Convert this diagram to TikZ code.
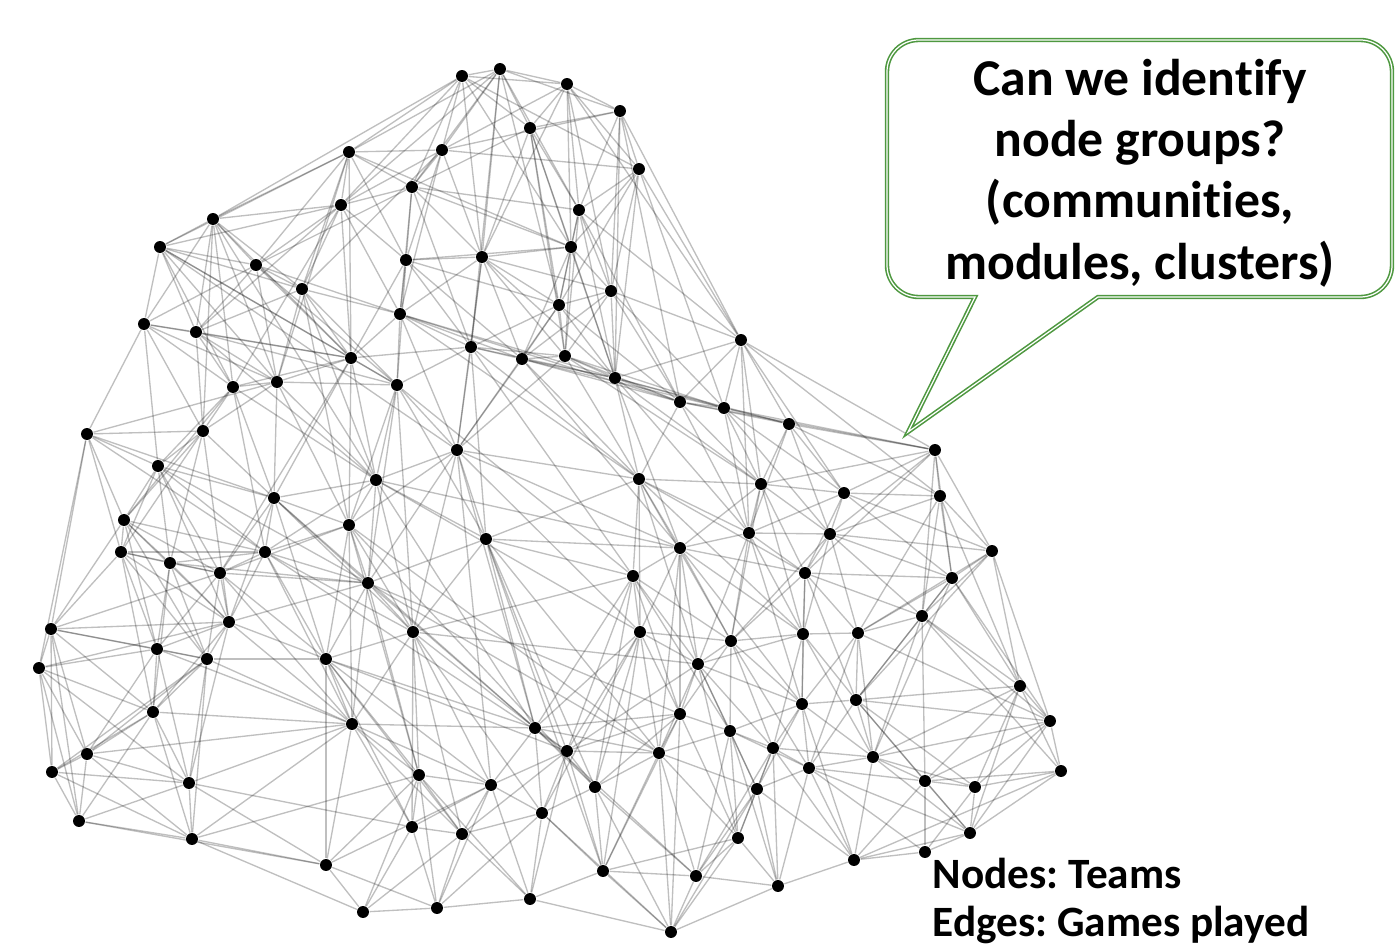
\documentclass[tikz,border=0pt]{standalone}
\usepackage{fontspec}
\setmainfont{Carlito}[Ligatures=NoCommon]
\definecolor{bubblegreen}{RGB}{78,152,64}
\frenchspacing

\begin{document}
\begin{tikzpicture}[
  x=0.01cm, y=-0.01cm,
  team/.style={circle, fill=black, minimum size=3.4pt, inner sep=0pt},
  game/.style={draw=black, opacity=0.25, line width=0.38pt},
  bubble/.style={draw=bubblegreen, line width=0.45pt, double=white, double distance=0.35pt, fill=white}
]
\useasboundingbox (0,0) rectangle (1400,949);

% teams
\foreach \i/\x/\y in {
  1/462/76, 2/500/69, 3/567/84, 4/620/111, 5/530/128, 6/442/150, 7/349/152, 8/639/169,
  9/412/187, 10/341/205, 11/579/210, 12/213/219, 13/160/247, 14/571/247, 15/406/260,
  16/482/257, 17/256/265, 18/302/289, 19/611/291, 20/559/305, 21/400/314, 22/144/324,
  23/196/332, 24/471/347, 25/522/359, 26/565/356, 27/351/358, 28/741/340, 29/233/387,
  30/277/382, 31/397/385, 32/615/378, 33/680/402, 34/724/408, 35/789/424, 36/87/434,
  37/203/431, 38/457/450, 39/935/450, 40/158/466, 41/376/480, 42/639/479, 43/761/484,
  44/844/493, 45/940/496, 46/274/498, 47/124/520, 48/349/525, 49/749/533, 50/830/534,
  51/486/539, 52/121/552, 53/265/552, 54/680/548, 55/992/551, 56/170/563, 57/220/573,
  58/633/576, 59/805/573, 60/952/578, 61/368/583, 62/922/616, 63/229/622, 64/51/629,
  65/413/632, 66/640/632, 67/731/641, 68/803/634, 69/858/633, 70/157/649, 71/207/659,
  72/39/668, 73/326/659, 74/698/664, 75/1020/686, 76/802/704, 77/856/700, 78/680/714,
  79/153/712, 80/352/724, 81/535/728, 82/730/731, 83/1050/721, 84/87/754, 85/567/751,
  86/659/753, 87/773/748, 88/873/757, 89/52/772, 90/419/775, 91/189/783, 92/809/768,
  93/491/785, 94/1061/771, 95/925/781, 96/975/787, 97/757/789, 98/595/787, 99/542/813,
  100/79/821, 101/412/827, 102/462/834, 103/192/839, 104/738/838, 105/970/833,
  106/326/865, 107/603/871, 108/696/876, 109/530/899, 110/437/908, 111/363/912,
  112/778/886, 113/854/860, 114/671/932, 115/925/852}
  \node[team] (t\i) at (\x,\y) {};

% games
\foreach \a/\b in {
  1/2, 1/3, 1/5, 1/6, 1/7, 1/12, 1/9, 1/16, 1/8, 1/10, 1/14,
  2/3, 2/4, 2/5, 2/6, 2/11, 2/16, 2/20, 2/10, 2/24, 2/7, 2/9,
  3/4, 3/5, 3/8, 3/14, 3/28, 3/6, 3/16, 3/19, 3/11,
  4/5, 4/8, 4/11, 4/28, 4/19, 4/6, 4/33, 4/32,
  5/11, 5/14, 5/20, 5/26, 5/9, 5/32, 5/16,
  6/7, 6/9, 6/10, 6/16, 6/8, 6/21, 6/15, 6/18,
  7/10, 7/9, 7/13, 7/17, 7/15, 7/14, 7/18, 7/12, 7/27, 7/30,
  8/11, 8/28, 8/14, 8/19, 8/20, 8/32, 8/34,
  9/10, 9/15, 9/16, 9/11, 9/24, 9/14, 9/17, 9/21,
  10/15, 10/21, 10/18, 10/27, 10/23, 10/12, 10/13, 10/17, 10/29,
  11/14, 11/20, 11/19, 11/26, 11/32, 11/33, 11/28,
  12/13, 12/17, 12/22, 12/23, 12/18, 12/29, 12/30, 12/37, 12/41, 12/27,
  13/17, 13/22, 13/23, 13/30, 13/29, 13/27, 13/38, 13/18, 13/31,
  14/16, 14/19, 14/20, 14/25, 14/26, 14/15, 14/32,
  15/16, 15/21, 15/24, 15/20, 15/31, 15/27, 15/25,
  16/20, 16/24, 16/25, 16/21, 16/38, 16/26, 16/19, 16/32,
  17/18, 17/23, 17/22, 17/30, 17/27, 17/21, 17/31,
  18/21, 18/27, 18/30, 18/23, 18/31, 18/48, 18/41,
  19/20, 19/26, 19/28, 19/32, 19/25, 19/34, 19/33,
  20/26, 20/25, 20/24, 20/32, 20/38, 20/33,
  21/24, 21/27, 21/31, 21/25, 21/32, 21/33, 21/42, 21/38,
  22/23, 22/29, 22/36, 22/37, 22/30, 22/40, 22/27,
  23/29, 23/30, 23/37, 23/27, 23/31, 23/41,
  24/25, 24/26, 24/31, 24/38, 24/27, 24/42, 24/32, 24/51, 24/58,
  25/26, 25/32, 25/33, 25/34, 25/38, 25/42, 25/54,
  26/32, 26/33, 26/42, 26/38, 26/34, 26/43,
  27/30, 27/31, 27/29, 27/41, 27/46, 27/57, 27/48,
  28/33, 28/34, 28/35, 28/39, 28/44, 28/32, 28/45, 28/43, 28/49,
  29/30, 29/37, 29/40, 29/46, 29/47, 29/53, 29/41,
  30/31, 30/37, 30/41, 30/46, 30/48,
  31/38, 31/41, 31/48, 31/51, 31/61, 31/65, 31/58,
  32/33, 32/34, 32/42, 32/35, 32/43, 32/54, 32/49,
  33/34, 33/35, 33/39, 33/42, 33/49, 33/43,
  34/35, 34/39, 34/43, 34/44, 34/50, 34/49,
  35/39, 35/44, 35/43, 35/45, 35/50, 35/49,
  36/37, 36/40, 36/47, 36/64, 36/52, 36/30, 36/72, 36/46, 36/53,
  37/40, 37/47, 37/46, 37/52, 37/56, 37/63,
  38/41, 38/42, 38/51, 38/48, 38/65, 38/54, 38/61, 38/66, 38/81, 38/93,
  39/44, 39/45, 39/55, 39/43, 39/60, 39/50, 39/62, 39/59,
  40/47, 40/52, 40/56, 40/53, 40/46, 40/57, 40/61, 40/63,
  41/46, 41/48, 41/51, 41/61, 41/53, 41/65, 41/81, 41/66, 41/54,
  42/49, 42/54, 42/58, 42/43, 42/51, 42/68, 42/66, 42/59, 42/67, 42/74,
  43/44, 43/49, 43/50, 43/54, 43/59, 43/68, 43/67,
  44/45, 44/50, 44/55, 44/49, 44/60, 44/59,
  45/55, 45/60, 45/50, 45/62, 45/69, 45/75,
  46/48, 46/53, 46/57, 46/61, 46/63, 46/65, 46/73, 46/81,
  47/52, 47/56, 47/64, 47/70, 47/53, 47/71, 47/57, 47/63,
  48/53, 48/61, 48/65, 48/57, 48/73, 48/80, 48/90, 48/86, 48/98,
  49/54, 49/50, 49/59, 49/68, 49/67, 49/74, 49/76,
  50/59, 50/55, 50/60, 50/69, 50/62, 50/68, 50/67,
  51/54, 51/58, 51/65, 51/61, 51/81, 51/86, 51/85, 51/98, 51/107,
  52/56, 52/57, 52/64, 52/70, 52/79, 52/63, 52/71, 52/53,
  53/57, 53/63, 53/56, 53/61, 53/73, 53/80, 53/65, 53/85,
  54/58, 54/66, 54/67, 54/74, 54/59, 54/76, 54/78, 54/68, 54/86,
  55/60, 55/62, 55/75, 55/83, 55/77, 55/69,
  56/57, 56/63, 56/70, 56/71, 56/79, 56/61,
  57/63, 57/71, 57/70, 57/61, 57/73, 57/64, 57/80,
  58/66, 58/74, 58/67, 58/78, 58/82, 58/85, 58/81, 58/98, 58/65,
  59/68, 59/69, 59/62, 59/67, 59/60, 59/76, 59/77,
  60/62, 60/69, 60/75, 60/77, 60/83, 60/88,
  61/65, 61/73, 61/63, 61/80, 61/90, 61/81, 61/78, 61/86,
  62/69, 62/75, 62/77, 62/88, 62/95, 62/94, 62/83,
  63/71, 63/73, 63/79, 63/80, 63/70, 63/64, 63/72, 63/91,
  64/70, 64/72, 64/79, 64/84, 64/89, 64/71, 64/100,
  65/73, 65/80, 65/90, 65/81, 65/101, 65/93, 65/99, 65/102, 65/74,
  66/67, 66/74, 66/78, 66/86, 66/81, 66/85, 66/99, 66/98, 66/107,
  67/68, 67/74, 67/76, 67/82, 67/78, 67/92, 67/87,
  68/69, 68/76, 68/77, 68/87, 68/74, 68/88,
  69/77, 69/76, 69/88, 69/83, 69/92,
  70/71, 70/79, 70/72, 70/84, 70/91, 70/80,
  71/79, 71/73, 71/91, 71/80, 71/103, 71/89, 71/84,
  72/79, 72/84, 72/89, 72/100, 72/91,
  73/80, 73/90, 73/106, 73/101, 73/93, 73/102, 73/81, 73/85,
  74/78, 74/82, 74/76, 74/86, 74/104, 74/97, 74/85, 74/87,
  75/83, 75/77, 75/94, 75/96, 75/95, 75/105, 75/88,
  76/77, 76/82, 76/87, 76/92, 76/97, 76/88, 76/113,
  77/88, 77/92, 77/95, 77/83, 77/96, 77/105,
  78/82, 78/86, 78/81, 78/98, 78/104, 78/85, 78/107, 78/114,
  79/84, 79/91, 79/89, 79/103, 79/100, 79/80,
  80/90, 80/101, 80/106, 80/103, 80/91, 80/102, 80/84, 80/93, 80/81,
  81/85, 81/86, 81/93, 81/98, 81/99, 81/108,
  82/87, 82/97, 82/104, 82/86, 82/108, 82/92, 82/112,
  83/94, 83/96, 83/88, 83/105, 83/95,
  84/89, 84/91, 84/100, 84/103,
  85/86, 85/93, 85/98, 85/99, 85/107, 85/109, 85/102,
  86/98, 86/97, 86/108, 86/107, 86/114, 86/104,
  87/92, 87/97, 87/104, 87/112, 87/88, 87/108, 87/113,
  88/92, 88/95, 88/113, 88/105, 88/96,
  89/100, 89/103, 89/91,
  90/101, 90/102, 90/93, 90/110, 90/106, 90/109, 90/103, 90/111,
  91/103, 91/100, 91/106, 91/101,
  92/97, 92/112, 92/113, 92/105, 92/95, 92/115,
  93/99, 93/102, 93/109, 93/101, 93/110, 93/106,
  94/96, 94/105, 94/95, 94/113,
  95/96, 95/105, 95/115, 95/113,
  96/105, 96/115,
  97/104, 97/112, 97/108, 97/113, 97/114,
  98/99, 98/107, 98/108, 98/114,
  99/107, 99/109, 99/102, 99/114, 99/110,
  100/103, 100/106,
  101/102, 101/110, 101/111,
  102/109, 102/110, 102/111,
  103/106, 103/111,
  104/108, 104/112, 104/114, 104/107,
  105/113, 105/115,
  106/111, 106/110,
  107/114, 107/109, 107/108,
  108/114, 108/112,
  109/110, 109/114,
  110/111,
  112/113, 112/114,
  113/115}
  \draw[game] (t\a) -- (t\b);

% speech bubble
\draw[bubble] (1098,297) [rounded corners=9pt] -- (1392,297) -- (1392,40) -- (887,40) -- (887,297)
  [sharp corners] -- (975,297) -- (908,432) -- cycle;
\node[font=\bfseries\fontsize{14.7}{17.4}\selectfont, align=center] (question) at (1140,173)
  {Can we identify\\node groups?\\(communities,\\modules, clusters)};

\node[font=\bfseries\fontsize{12.3}{13.7}\selectfont, align=left, anchor=north west, inner sep=0pt] (legend) at (932,857)
  {Nodes: Teams\\Edges: Games played};
\end{tikzpicture}
\end{document}
